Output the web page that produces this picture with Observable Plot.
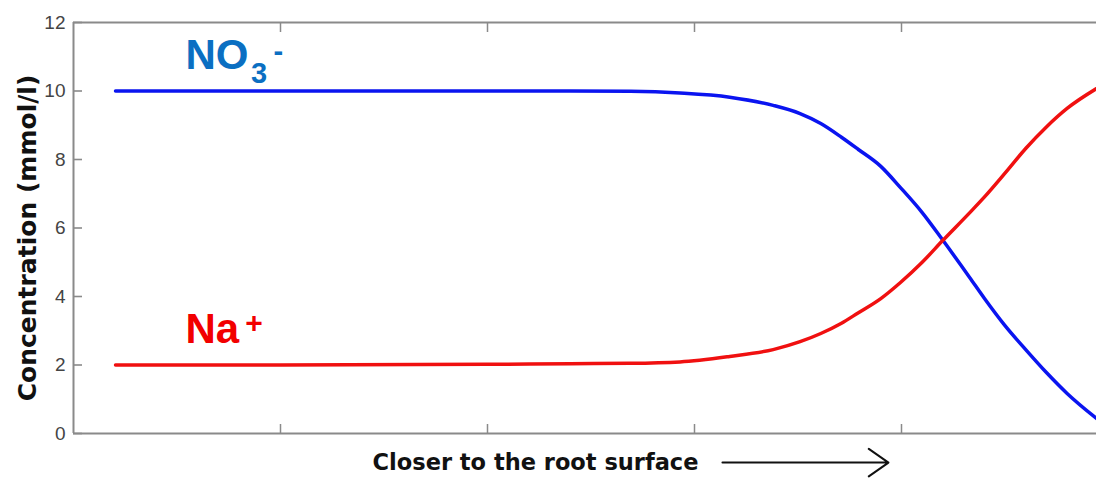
<!DOCTYPE html>
<html>
<head>
<meta charset="utf-8">
<script src="https://cdn.jsdelivr.net/npm/d3@7"></script>
<script src="https://cdn.jsdelivr.net/npm/@observablehq/plot@0.6"></script>
<style>
  html, body { margin: 0; padding: 0; background: #fff; }
</style>
</head>
<body>
<div id="chart"></div>
<script>
// Distance (arbitrary units toward root surface) and concentrations (mmol/l)
const distance = [0.203, 1.0, 2.0, 2.4, 2.69, 2.93, 3.17, 3.38, 3.51, 3.61, 3.71, 3.79, 3.90, 3.995, 4.10, 4.20, 4.33, 4.40, 4.50, 4.60, 4.70, 4.80, 4.942];
const no3 =      [10.0, 10.0, 10.0, 10.0, 9.99, 9.94, 9.82, 9.58, 9.34, 9.05, 8.65, 8.30, 7.80, 7.18, 6.45, 5.64, 4.55, 3.95, 3.15, 2.45, 1.78, 1.17, 0.44];
const na =       [2.0, 2.0, 2.02, 2.04, 2.05, 2.09, 2.25, 2.45, 2.68, 2.92, 3.22, 3.52, 3.94, 4.41, 5.00, 5.64, 6.45, 6.90, 7.60, 8.32, 8.95, 9.49, 10.07];

const yTicks = [0, 2, 4, 6, 8, 10, 12];
const xTicks = [1, 2, 3, 4];
const yLabel = "Concentration (mmol/l)";
const xLabel = "Closer to the root surface";

// annotation anchors (data coordinates)
const labelX = [0.541];
const no3LabelY = [11.04];
const naLabelY = [3.04];
const subX = [0.857], subY = [10.51];
const supX = [0.966], supY = [11.15];
const plusX = [0.83], plusY = [3.21];
const xLabelPos = {x: [2.232], y: [-0.85]};
const arrowPos = {x1: [3.135], x2: [3.937], y: [-0.85]};

const rowsNO3 = distance.map((d, i) => ({d, v: no3[i]}));
const rowsNa = distance.map((d, i) => ({d, v: na[i]}));

const W = 1096, ML = 73;
const pxPerUnit = 207;         // horizontal pixels per x unit
const tickLen = 9 / pxPerUnit; // inward tick length in x units
const frameColor = "#8a8a8a";
const tickTextColor = "#444";
const sans = "Liberation Sans, Arial, sans-serif";

const plot = Plot.plot({
  width: W,
  height: 478,
  marginLeft: ML,
  marginRight: 0,
  marginTop: 22,
  marginBottom: 45,
  style: {background: "#fff", overflow: "visible"},
  x: {domain: [0, (W - ML) / pxPerUnit]},
  y: {domain: [0, 12]},
  marks: [
    Plot.ruleY([0, 12], {stroke: frameColor, strokeWidth: 2}),
    Plot.ruleX([0], {stroke: frameColor, strokeWidth: 2}),
    Plot.axisY({ticks: yTicks, tickSize: 0, tickPadding: 8,
      fontSize: 19, fontFamily: sans, color: tickTextColor, label: null}),
    Plot.ruleY(yTicks, {y: d => d, x1: 0, x2: tickLen, stroke: frameColor, strokeWidth: 1.6}),
    Plot.axisX({ticks: xTicks, anchor: "bottom", tickSize: -9, tickFormat: () => "", stroke: frameColor, strokeWidth: 1.5, label: null}),
    Plot.axisX({ticks: xTicks, anchor: "top", tickSize: -9, tickFormat: () => "", stroke: frameColor, strokeWidth: 1.5, label: null}),
    Plot.line(rowsNO3, {x: "d", y: "v", stroke: "#0a14f0", strokeWidth: 3.5, curve: "monotone-x"}),
    Plot.line(rowsNa, {x: "d", y: "v", stroke: "#f01010", strokeWidth: 3.5, curve: "monotone-x"}),
    // series labels
    Plot.text(labelX, {x: d => d, y: no3LabelY, text: ["NO"], textAnchor: "start", lineAnchor: "middle",
      fontSize: 42, fontWeight: "bold", fontFamily: sans, fill: "#0b6fc2"}),
    Plot.text(subX, {x: d => d, y: subY, text: ["3"], textAnchor: "start", lineAnchor: "middle",
      fontSize: 29, fontWeight: "bold", fontFamily: sans, fill: "#0b6fc2"}),
    Plot.text(supX, {x: d => d, y: supY, text: ["-"], textAnchor: "start", lineAnchor: "middle",
      fontSize: 29, fontWeight: "bold", fontFamily: sans, fill: "#0b6fc2"}),
    Plot.text(labelX, {x: d => d, y: naLabelY, text: ["Na"], textAnchor: "start", lineAnchor: "middle",
      fontSize: 42, fontWeight: "bold", fontFamily: sans, fill: "#f20000"}),
    Plot.text(plusX, {x: d => d, y: plusY, text: ["+"], textAnchor: "start", lineAnchor: "middle",
      fontSize: 30, fontWeight: "bold", fontFamily: sans, fill: "#f20000"}),
    // axis titles
    Plot.text([yLabel], {frameAnchor: "left", rotate: -90, dx: -46, dy: 10, textAnchor: "middle", lineAnchor: "middle",
      fontSize: 25, fontWeight: "bold", fontFamily: "DejaVu Sans, Verdana, sans-serif", fill: "#111"}),
    Plot.text(xLabelPos.x, {x: d => d, y: xLabelPos.y, text: [xLabel], textAnchor: "middle", lineAnchor: "middle",
      fontSize: 22.5, fontWeight: "bold", fontFamily: "DejaVu Sans, Verdana, sans-serif", fill: "#111"}),
    Plot.arrow(arrowPos.x1, {x1: d => d, x2: arrowPos.x2, y1: arrowPos.y, y2: arrowPos.y,
      stroke: "#111", strokeWidth: 2, headLength: 18, headAngle: 70, bend: 0})
  ]
});
document.getElementById("chart").appendChild(plot);
</script>
</body>
</html>
